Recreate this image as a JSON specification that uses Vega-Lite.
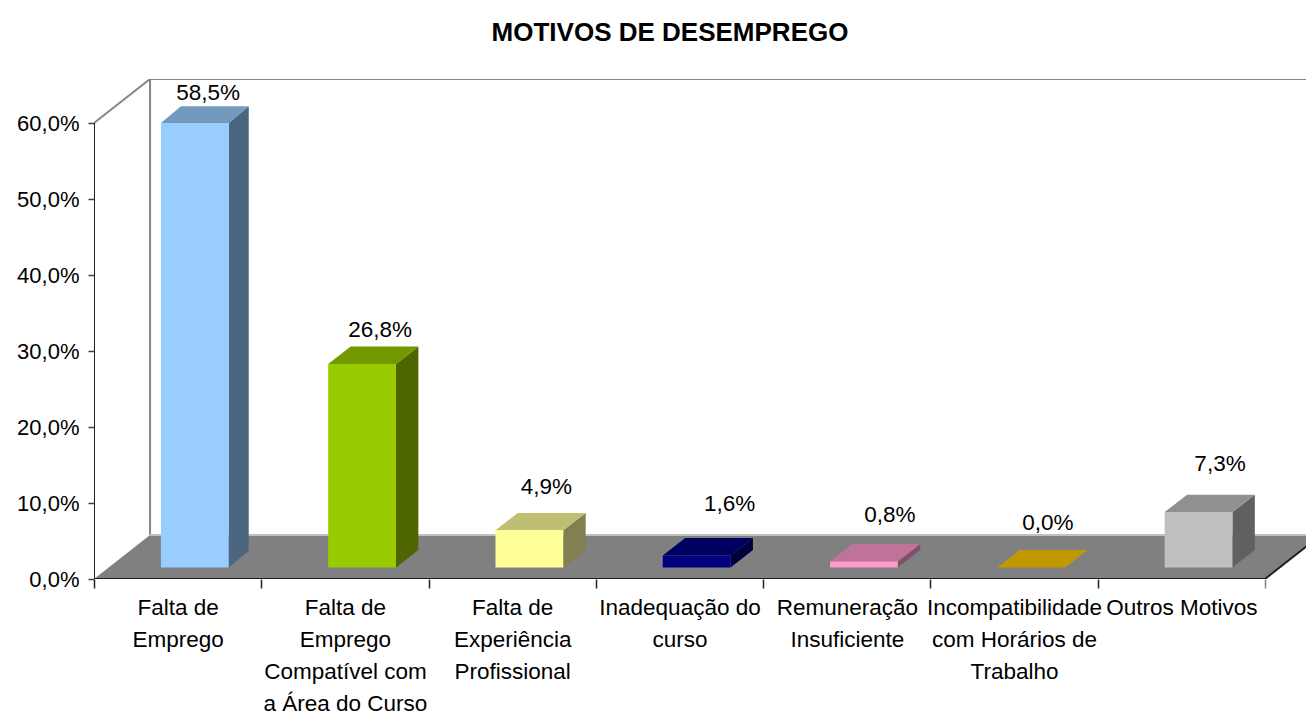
{
"$schema":"https://vega.github.io/schema/vega-lite/v6.json",
"width":1212,"height":500,
"autosize":{"type":"none"},
"padding":{"left":94,"top":79,"right":0,"bottom":134},
"background":"white",
"title":{"text":"MOTIVOS DE DESEMPREGO","font":"Liberation Sans","fontSize":26,"fontWeight":"bold","color":"black","anchor":"middle","dx":-30,"offset":33},
"datasets":{
"motivos":[
{"ordem":0,"motivo":"Falta de Emprego","valor":58.5},
{"ordem":1,"motivo":"Falta de Emprego Compatível com a Área do Curso","valor":26.8},
{"ordem":2,"motivo":"Falta de Experiência Profissional","valor":4.9},
{"ordem":3,"motivo":"Inadequação do curso","valor":1.6},
{"ordem":4,"motivo":"Remuneração Insuficiente","valor":0.8},
{"ordem":5,"motivo":"Incompatibilidade com Horários de Trabalho","valor":0.0},
{"ordem":6,"motivo":"Outros Motivos","valor":7.3}
],
"chao":[{"yy":0,"xa":0,"xb":7},{"yy":5.79,"xa":0.335,"xb":7.335}],
"linhas":[
{"xa":0,"xb":0.335,"ya":60,"yb":65.79,"cor":"parede"},
{"xa":0.335,"xb":0.335,"ya":5.79,"yb":65.79,"cor":"parede"},
{"xa":0.335,"xb":7.335,"ya":65.79,"yb":65.79,"cor":"parede"},
{"xa":0.335,"xb":7.335,"ya":5.79,"yb":5.79,"cor":"fundo"},
{"xa":0,"xb":0,"ya":0,"yb":60,"cor":"eixo"},
{"xa":0,"xb":7,"ya":0,"yb":0,"cor":"eixo"},
{"xa":7,"xb":7.335,"ya":0,"yb":5.79,"cor":"eixo"}
]
},
"data":{"name":"motivos"},
"transform":[
{"calculate":"datum.ordem+0.4","as":"x0"},
{"calculate":"datum.ordem+0.805","as":"x1"},
{"calculate":"1.5","as":"y0"},
{"calculate":"1.5+datum.valor","as":"y1"},
{"calculate":"datum.ordem===0?0.12:0.134","as":"px"},
{"calculate":"datum.ordem===0?2.2:2.3","as":"py"}
],
"layer":[
{
"data":{"name":"chao"},
"transform":[],
"mark":{"type":"area","orient":"horizontal","clip":true,"color":"#808080"},
"encoding":{
"y":{"field":"yy","type":"quantitative","scale":{"domain":[0,65.79],"nice":false,"zero":false},
"axis":{"title":null,"domain":false,"grid":false,"values":[0,10,20,30,40,50,60],"tickSize":6,"tickColor":"#404040","tickWidth":1.5,"labelPadding":9,
"labelFont":"Liberation Sans","labelFontSize":22,"labelColor":"black",
"labelExpr":"replace(format(datum.value,'.1f'),'.',',')+'%'"}},
"x":{"field":"xa","type":"quantitative","scale":{"domain":[0,7.245],"nice":false,"zero":false},
"axis":{"title":null,"domain":false,"grid":false,"values":[0,0.5,1,1.5,2,2.5,3,3.5,4,4.5,5,5.5,6,6.5,7],"tickSize":9,"tickWidth":1.5,"labelOverlap":false,"labelBound":false,"labelFlush":false,"labelPadding":8,"labelAngle":0,"labelBaseline":"top","labelLineHeight":32,
"labelFont":"Liberation Sans","labelFontSize":22.5,"labelColor":"black",
"tickOpacity":{"condition":{"test":"datum.value % 1 === 0","value":1},"value":0},
"tickColor":{"condition":{"test":"datum.value === 7","value":"#808080"},"value":"#202020"},
"labelExpr":"datum.value % 1 === 0 ? '' : [['Falta de','Emprego'],['Falta de','Emprego','Compatível com','a Área do Curso'],['Falta de','Experiência','Profissional'],['Inadequação do','curso'],['Remuneração','Insuficiente'],['Incompatibilidade','com Horários de','Trabalho'],['Outros  Motivos']][floor(datum.value)]"}},
"x2":{"field":"xb"}
}
},
{
"data":{"name":"linhas"},
"transform":[],
"mark":{"type":"rule","clip":true,"strokeWidth":2},
"encoding":{
"x":{"field":"xa","type":"quantitative"},"x2":{"field":"xb"},
"y":{"field":"ya","type":"quantitative"},"y2":{"field":"yb"},
"color":{"field":"cor","type":"nominal","legend":null,"scale":{"domain":["parede","fundo","eixo"],"range":["#868686","#c0c0c0","#202020"]}}
}
},
{
"transform":[{"calculate":"[0,1]","as":"t"},{"flatten":["t"]},
{"calculate":"datum.x1+datum.t*datum.px","as":"sx"},
{"calculate":"datum.y0+datum.t*datum.py","as":"sa"},
{"calculate":"datum.y1+datum.t*datum.py","as":"sb"}],
"mark":{"type":"area"},
"encoding":{
"x":{"field":"sx","type":"quantitative"},
"y":{"field":"sa","type":"quantitative"},"y2":{"field":"sb"},
"fill":{"field":"motivo","type":"nominal","legend":null,"scale":{"domain":["Falta de Emprego","Falta de Emprego Compatível com a Área do Curso","Falta de Experiência Profissional","Inadequação do curso","Remuneração Insuficiente","Incompatibilidade com Horários de Trabalho","Outros Motivos"],"range":["#4D6680","#4D6600","#808050","#000040","#80506A","#806600","#606060"]}}
}
},
{
"transform":[{"calculate":"[0,1]","as":"t"},{"flatten":["t"]},
{"calculate":"datum.y1+datum.t*datum.py","as":"ty"},
{"calculate":"datum.x0+datum.t*datum.px","as":"ta"},
{"calculate":"datum.x1+datum.t*datum.px","as":"tb"}],
"mark":{"type":"area","orient":"horizontal"},
"encoding":{
"y":{"field":"ty","type":"quantitative"},
"x":{"field":"ta","type":"quantitative"},"x2":{"field":"tb"},
"fill":{"field":"motivo","type":"nominal","legend":null,"scale":{"domain":["Falta de Emprego","Falta de Emprego Compatível com a Área do Curso","Falta de Experiência Profissional","Inadequação do curso","Remuneração Insuficiente","Incompatibilidade com Horários de Trabalho","Outros Motivos"],"range":["#7399BF","#739900","#BFBF73","#000060","#BF7399","#C09900","#909090"]}}
}
},
{
"mark":{"type":"rect"},
"encoding":{
"x":{"field":"x0","type":"quantitative"},"x2":{"field":"x1"},
"y":{"field":"y0","type":"quantitative"},"y2":{"field":"y1"},
"fill":{"field":"motivo","type":"nominal","legend":null,"scale":{"domain":["Falta de Emprego","Falta de Emprego Compatível com a Área do Curso","Falta de Experiência Profissional","Inadequação do curso","Remuneração Insuficiente","Incompatibilidade com Horários de Trabalho","Outros Motivos"],"range":["#99CCFF","#99CC00","#FFFF99","#000080","#FF99CC","#C09900","#C0C0C0"]}}
}
},
{
"transform":[
{"calculate":"datum.ordem+[0.682,0.711,0.704,0.799,0.757,0.702,0.731][datum.ordem]","as":"lx"},
{"calculate":"datum.valor+[5.45,5.97,7.21,8.27,7.62,7.37,7.83][datum.ordem]","as":"ly"},
{"calculate":"replace(format(datum.valor,'.1f'),'.',',')+'%'","as":"rotulo"}],
"mark":{"type":"text","font":"Liberation Sans","fontSize":22.5,"color":"black","align":"center","baseline":"middle"},
"encoding":{
"x":{"field":"lx","type":"quantitative"},
"y":{"field":"ly","type":"quantitative"},
"text":{"field":"rotulo"}
}
}
],
"resolve":{"scale":{"fill":"independent"}},
"config":{"view":{"stroke":null}}
}
